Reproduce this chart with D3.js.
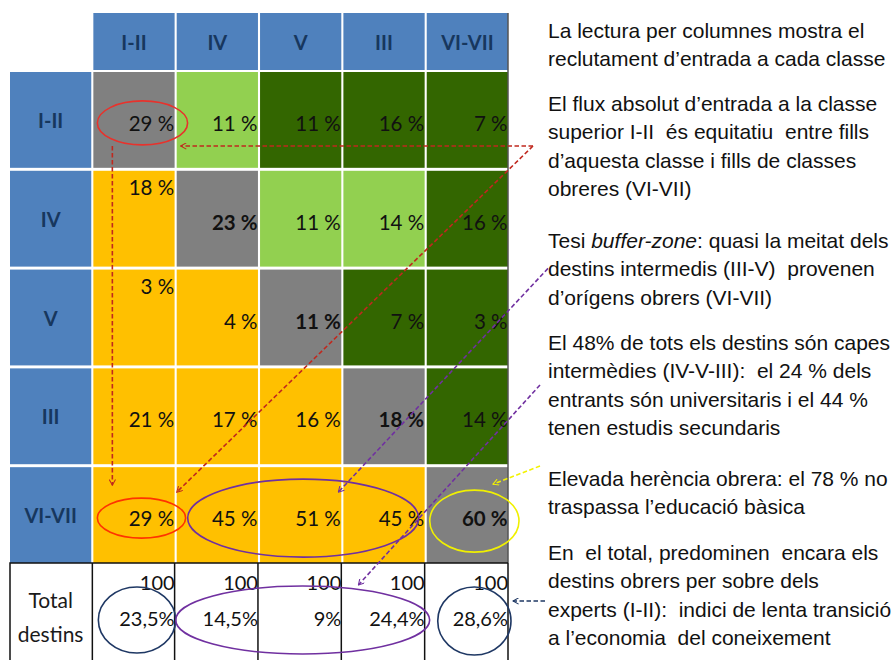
<!DOCTYPE html>
<html>
<head>
<meta charset="utf-8">
<script src="https://cdn.jsdelivr.net/npm/d3@7"></script>
<style>
  body { margin: 0; background: #fff; }
  svg { display: block; }
</style>
</head>
<body>
<div id="graph-container"></div>
<script>
const width = 893, height = 660;

// origin classes (rows) and destination classes (columns)
const cols = ["I-II", "IV", "V", "III", "VI-VII"];
const rows = ["I-II", "IV", "V", "III", "VI-VII"];

// % of each destination column coming from each origin row
const values = [
  [29, 11, 11, 16, 7],
  [18, 23, 11, 14, 16],
  [3, 4, 11, 7, 3],
  [21, 17, 16, 18, 14],
  [29, 45, 51, 45, 60]
];
const colTotals = [100, 100, 100, 100, 100];
const destShare = ["23,5%", "14,5%", "9%", "24,4%", "28,6%"];
const totalLabel = ["Total", "destins"];

// cells above the diagonal drawn in light green (rest of upper part dark green)
const lightCells = [[0, 1], [1, 2], [1, 3]];
// cells whose value sits at the top of the cell
const topCells = [[1, 0], [2, 0]];

const notes = [
  ["La lectura per columnes mostra el", "reclutament d\u2019entrada a cada classe"],
  ["El flux absolut d\u2019entrada a la classe", "superior I-II  és equitatiu  entre fills", "d\u2019aquesta classe i fills de classes", "obreres (VI-VII)"],
  ["Tesi |buffer-zone|: quasi la meitat dels", "destins intermedis (III-V)  provenen", "d\u2019orígens obrers (VI-VII)"],
  ["El 48% de tots els destins són capes", "intermèdies (IV-V-III):  el 24 % dels", "entrants són universitaris i el 44 %", "tenen estudis secundaris"],
  ["Elevada herència obrera: el 78 % no", "traspassa l\u2019educació bàsica"],
  ["En  el total, predominen  encara els", "destins obrers per sobre dels", "experts (I-II):  indici de lenta transició", "a l\u2019economia  del coneixement"]
];
const noteTop = [30, 103, 240, 342, 478, 552];

const C = {
  head: "#4F81BD", headText: "#17375E", diag: "#808080",
  light: "#92D050", dark: "#336600", low: "#FFC000"
};

const x = d3.scaleBand().domain(["label", ...cols]).range([10, 508]).paddingInner(0.025);
const y = d3.scaleBand().domain(rows).range([72, 563]).paddingInner(0.03);
const headTop = 13, headBot = 70, totalTop = 563;
const bw = x.bandwidth(), bh = y.bandwidth();

const cx = c => x(c) + bw / 2;
const cy = r => y(r) + bh / 2;

function cellColor(i, j) {
  if (i === j) return C.diag;
  if (i > j) return C.low;
  return lightCells.some(d => d[0] === i && d[1] === j) ? C.light : C.dark;
}

const svg = d3.select("#graph-container").append("svg")
  .attr("width", width).attr("height", height)
  .attr("viewBox", [0, 0, width, height]);

const defs = svg.append("defs");
function marker(id, color) {
  defs.append("marker")
    .attr("id", id).attr("viewBox", "0 0 10 10")
    .attr("refX", 9).attr("refY", 5)
    .attr("markerWidth", 7).attr("markerHeight", 7)
    .attr("markerUnits", "userSpaceOnUse")
    .attr("orient", "auto")
    .append("path").attr("d", "M1,0.5 L9,5 L1,9.5")
    .attr("fill", "none").attr("stroke", color).attr("stroke-width", 1.5);
}
marker("m-red", "#C0281E");
marker("m-purple", "#7030A0");
marker("m-yellow", "#F2F200");
marker("m-navy", "#1F3864");

// header row
const head = svg.append("g");
head.selectAll("rect").data(cols).join("rect")
  .attr("x", d => x(d)).attr("y", headTop)
  .attr("width", bw).attr("height", headBot - headTop)
  .attr("fill", C.head);
head.selectAll("text").data(cols).join("text")
  .attr("x", d => cx(d)).attr("y", (headTop + headBot) / 2)
  .attr("text-anchor", "middle").attr("dominant-baseline", "central")
  .attr("font-family", "Lato, sans-serif").attr("font-weight", 700)
  .attr("font-size", 20).attr("fill", C.headText)
  .text(d => d);

// row labels
const rl = svg.append("g");
rl.selectAll("rect").data(rows).join("rect")
  .attr("x", x("label")).attr("y", d => y(d))
  .attr("width", bw).attr("height", bh)
  .attr("fill", C.head);
rl.selectAll("text").data(rows).join("text")
  .attr("x", cx("label")).attr("y", d => cy(d))
  .attr("text-anchor", "middle").attr("dominant-baseline", "central")
  .attr("font-family", "Lato, sans-serif").attr("font-weight", 700)
  .attr("font-size", 20).attr("fill", C.headText)
  .text(d => d);

// matrix cells
const cells = [];
values.forEach((row, i) => row.forEach((v, j) => cells.push({ i, j, v })));

const cellG = svg.append("g");
cellG.selectAll("rect").data(cells).join("rect")
  .attr("x", d => x(cols[d.j])).attr("y", d => y(rows[d.i]))
  .attr("width", bw).attr("height", bh)
  .attr("fill", d => cellColor(d.i, d.j));

cellG.selectAll("text").data(cells).join("text")
  .attr("x", d => x(cols[d.j]) + bw - 0.5)
  .attr("y", d => topCells.some(t => t[0] === d.i && t[1] === d.j)
    ? y(rows[d.i]) + 16 : cy(rows[d.i]) + 3)
  .attr("text-anchor", "end").attr("dominant-baseline", "central")
  .attr("font-family", "Lato, sans-serif").attr("font-size", 20.5)
  .attr("font-weight", d => d.i === d.j && d.i > 0 ? 700 : 400)
  .attr("fill", "#111")
  .text(d => d.v + " %");

// right dark edge
svg.append("line")
  .attr("x1", 508).attr("x2", 508).attr("y1", headTop).attr("y2", totalTop)
  .attr("stroke", "#555").attr("stroke-width", 1.5);

// total row
const tot = svg.append("g");
tot.append("path")
  .attr("d", `M${x("label")},${height} V${totalTop} H${x("VI-VII") + bw}`)
  .attr("fill", "none").attr("stroke", "#111").attr("stroke-width", 1.5);
tot.selectAll("line").data(cols).join("line")
  .attr("x1", d => x(d) + bw).attr("x2", d => x(d) + bw)
  .attr("y1", totalTop).attr("y2", height)
  .attr("stroke", "#111").attr("stroke-width", 1.5);
tot.append("line")
  .attr("x1", x("I-II") - 1).attr("x2", x("I-II") - 1)
  .attr("y1", totalTop).attr("y2", height)
  .attr("stroke", "#111").attr("stroke-width", 1.5);
tot.selectAll("text.lab").data(totalLabel).join("text").attr("class", "lab")
  .attr("x", cx("label")).attr("y", (d, i) => totalTop + 36 + i * 34)
  .attr("text-anchor", "middle").attr("dominant-baseline", "central")
  .attr("font-family", "Lato, sans-serif").attr("font-size", 21).attr("fill", "#1a1a1a")
  .text(d => d);
tot.selectAll("text.base").data(colTotals).join("text").attr("class", "base")
  .attr("x", (d, j) => x(cols[j]) + bw).attr("y", totalTop + 19)
  .attr("text-anchor", "end").attr("dominant-baseline", "central")
  .attr("font-family", "Lato, sans-serif").attr("font-size", 20).attr("fill", "#111")
  .text(d => d);
tot.selectAll("text.share").data(destShare).join("text").attr("class", "share")
  .attr("x", (d, j) => x(cols[j]) + bw).attr("y", totalTop + 55)
  .attr("text-anchor", "end").attr("dominant-baseline", "central")
  .attr("font-family", "Lato, sans-serif").attr("font-size", 20).attr("fill", "#111")
  .text(d => d);

// notes
const noteX = 548, lineH = 28.4;
const notesG = svg.append("g")
  .attr("font-family", "'Liberation Sans', Arial, sans-serif")
  .attr("font-size", 21).attr("fill", "#111");
notes.forEach((lines, p) => {
  lines.forEach((ln, k) => {
    const t = notesG.append("text")
      .attr("x", noteX).attr("y", noteTop[p] + k * lineH)
      .attr("dominant-baseline", "central")
      .style("white-space", "pre");
    ln.split("|").forEach((part, q) => {
      t.append("tspan").attr("font-style", q % 2 ? "italic" : "normal").text(part);
    });
  });
});

// annotations
const ann = svg.append("g").attr("fill", "none");
const valY = r => cy(r) + 3;
function ellipse(c0, c1, r, ry, color, dx0, dx1, cyv) {
  const l = x(c0) + dx0, rr = x(c1) + bw + dx1;
  ann.append("ellipse")
    .attr("cx", (l + rr) / 2).attr("cy", cyv)
    .attr("rx", (rr - l) / 2).attr("ry", ry)
    .attr("stroke", color).attr("stroke-width", 1.6);
}
ellipse("I-II", "I-II", "I-II", 22, "#E8322C", 4, 13, valY("I-II"));
ellipse("I-II", "I-II", "VI-VII", 20, "#FF3300", 4, 11, valY("VI-VII"));
ellipse("IV", "III", "VI-VII", 39, "#7030A0", 11, -6, valY("VI-VII"));
ellipse("VI-VII", "VI-VII", "VI-VII", 31, "#F0F000", 3, 11, valY("VI-VII") + 3);
ellipse("I-II", "I-II", null, 33, "#1F3864", 5, 1, totalTop + 57);
ellipse("VI-VII", "VI-VII", null, 34, "#1F3864", 11, 3, totalTop + 58);
ellipse("IV", "III", null, 34, "#7030A0", -1, 5, totalTop + 57);

function arrow(pts, color, id, head = true) {
  ann.append("path")
    .attr("d", d3.line()(pts))
    .attr("stroke", color).attr("stroke-width", 1.6)
    .attr("stroke-dasharray", "4.5,2.5")
    .attr("marker-end", head ? `url(#${id})` : null);
}
const apex = [noteX - 15, y("I-II") + 74];
arrow([[x("I-II") + 19, valY("I-II") + 23], [x("I-II") + 19, y("VI-VII") + 18]], "#C0281E", "m-red");
arrow([apex, [x("IV") + 4, apex[1]]], "#C0281E", "m-red");
arrow([apex, [x("IV"), y("VI-VII") + 25]], "#C0281E", "m-red");
arrow([[noteX, noteTop[2] + lineH], [x("V") + bw - 3, y("VI-VII") + 25]], "#7030A0", "m-purple");
arrow([[noteX - 8, noteTop[3] + 43], [x("III") + 15, totalTop + 22]], "#7030A0", "m-purple");
arrow([[noteX - 8, noteTop[4] - 12], [x("VI-VII") + bw - 15, y("VI-VII") + 17]], "#F2F200", "m-yellow");
arrow([[noteX - 3, noteTop[5] + 49], [x("VI-VII") + bw + 5, totalTop + 38]], "#1F3864", "m-navy");
</script>
</body>
</html>
